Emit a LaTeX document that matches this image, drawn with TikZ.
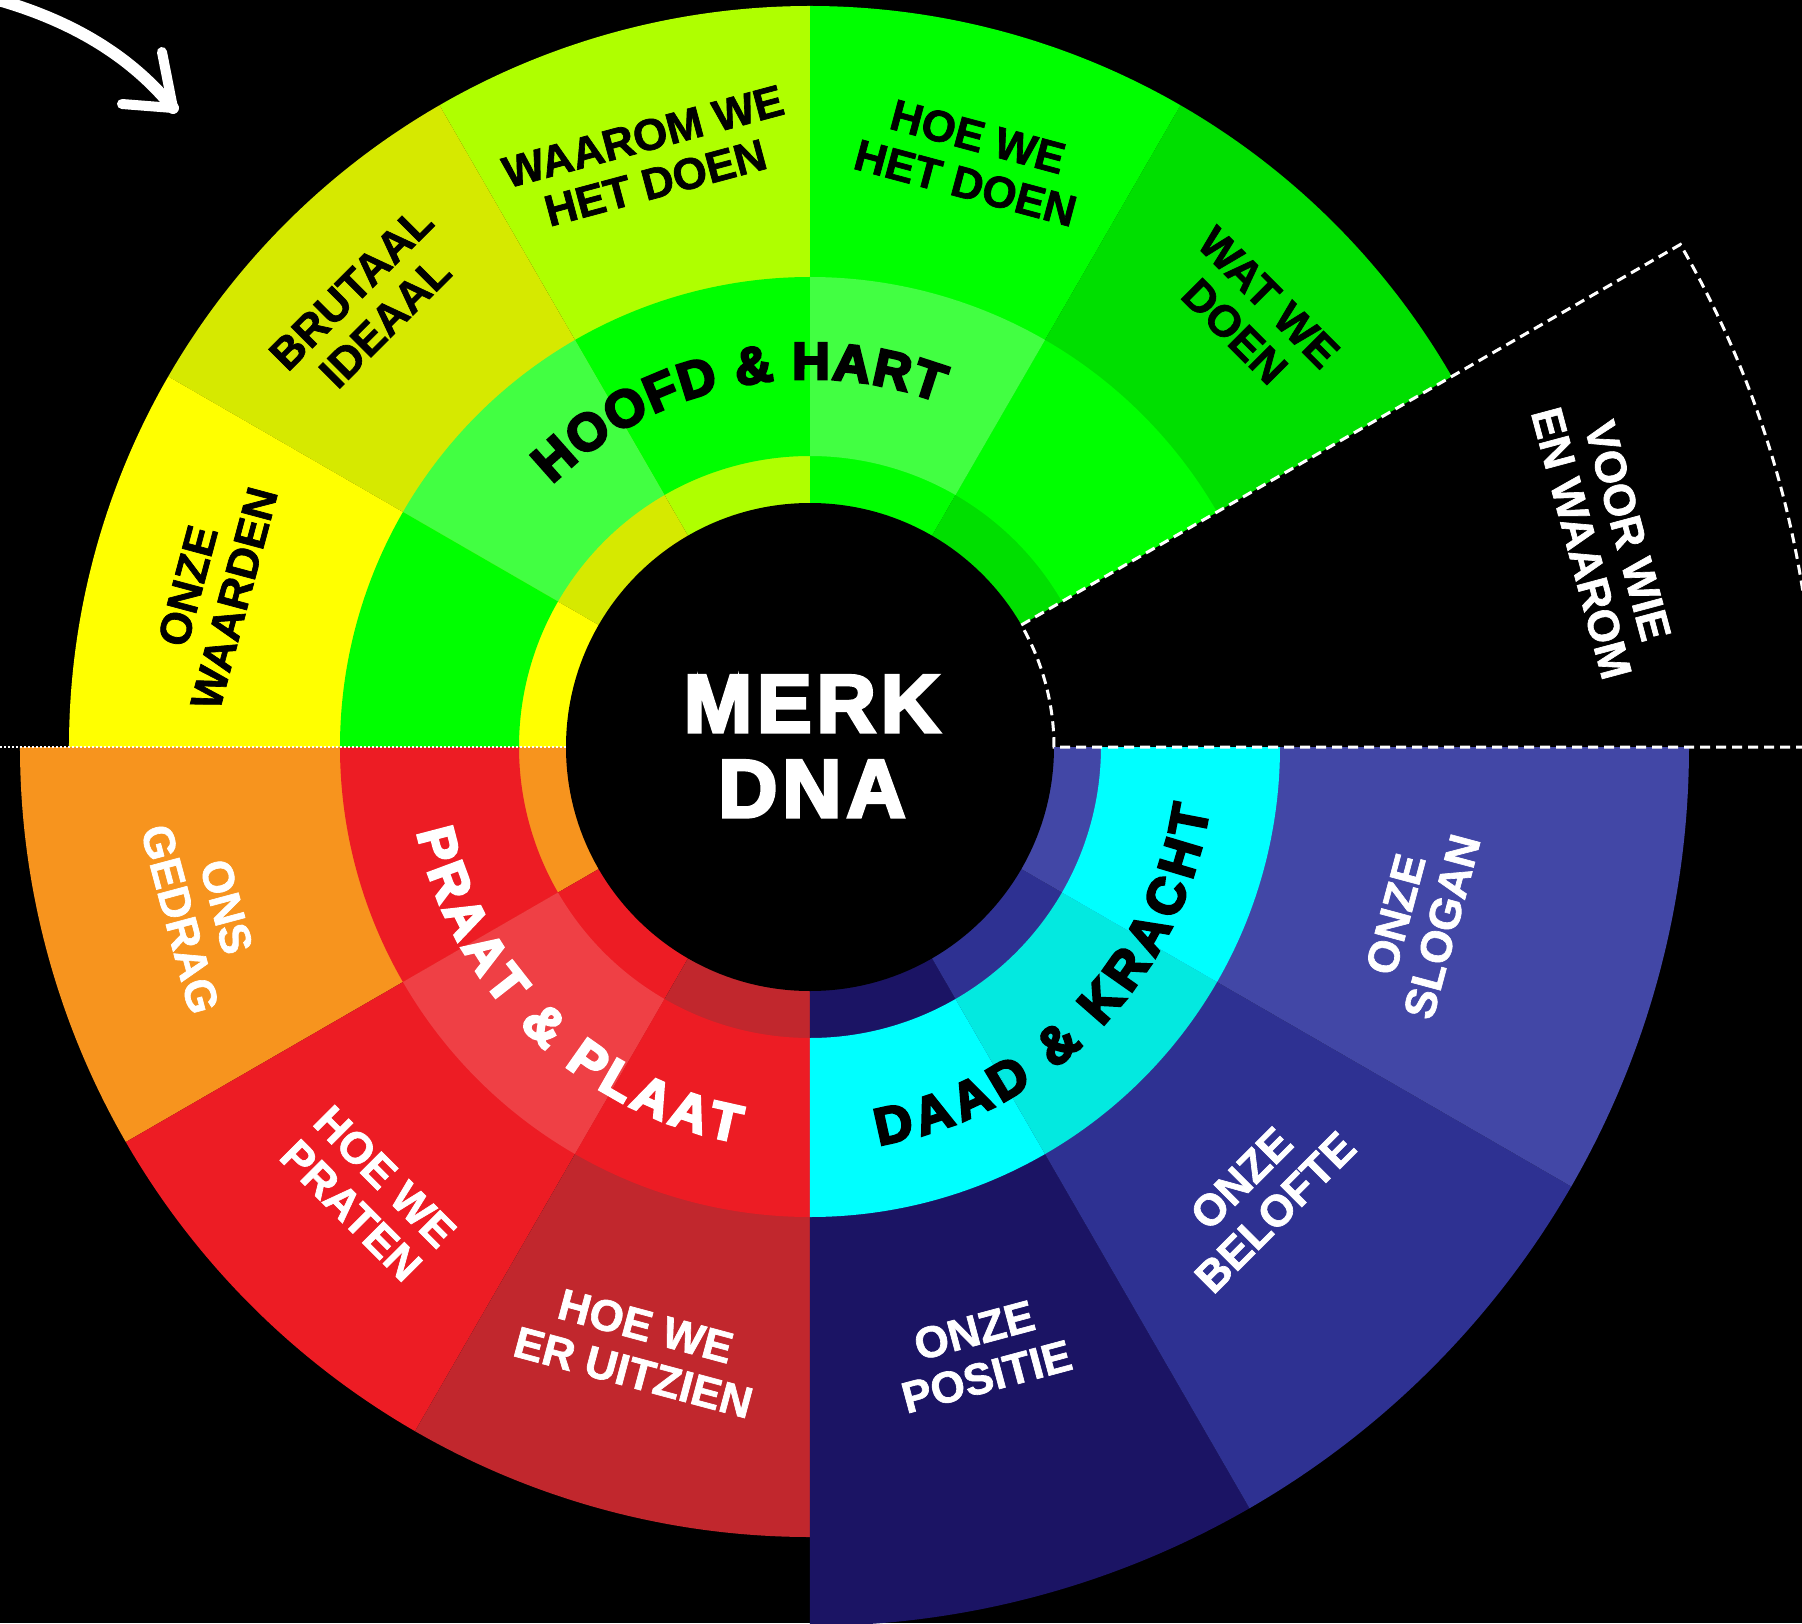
\documentclass[tikz,border=0pt]{standalone}
\usepackage{fontspec}
\setmainfont{Liberation Sans}
\newfontfamily\heavyfont{Liberation Sans}[BoldFeatures={FakeBold=5}]
\newfontfamily\centrefont{Liberation Sans}[BoldFeatures={FakeBold=4}]
\newfontfamily\labfont{Liberation Sans}[BoldFeatures={FakeBold=1.5}]
\usetikzlibrary{decorations.text}
\definecolor{cLime}{HTML}{AFFF00}
\definecolor{cOlive}{HTML}{D6E900}
\definecolor{cYellow}{HTML}{FFFF00}
\definecolor{cGreen}{HTML}{00FF00}
\definecolor{cLtGreen}{HTML}{42FF42}
\definecolor{cDkGreen}{HTML}{00DF00}
\definecolor{cOrange}{HTML}{F7941E}
\definecolor{cRed}{HTML}{ED1C24}
\definecolor{cLtRed}{HTML}{EF4045}
\definecolor{cDkRed}{HTML}{C1272D}
\definecolor{cNavy}{HTML}{1B1464}
\definecolor{cBlue}{HTML}{2E3192}
\definecolor{cLtBlue}{HTML}{4247A6}
\definecolor{cCyan}{HTML}{00FFFF}
\definecolor{cDkCyan}{HTML}{03E9E0}
\newcommand{\wedgefill}[4]{\fill[#1] (0,0) -- (#2:#4) arc[start angle=#2, end angle=#3, radius=#4] -- cycle;}
\newcommand{\ringfill}[5]{\fill[#1] (#2:#4) arc[start angle=#2, end angle=#3, radius=#4] -- (#3:#5) arc[start angle=#3, end angle=#2, radius=#5] -- cycle;}
\newcommand{\arcfont}{\heavyfont\bfseries\fontsize{52}{52}\selectfont}
\tikzset{
  lab/.style={font=\labfont\bfseries\fontsize{44}{48}\selectfont, align=center, inner sep=0pt},
  bigtxt/.style={font=\centrefont\bfseries\fontsize{82}{82}\selectfont\addfontfeature{LetterSpace=6}, text=white, inner sep=0pt, anchor=base},
  arclab/.style={decorate, decoration={text along path, text align=fit to path}}
}
\begin{document}
\begin{tikzpicture}[x=1pt,y=1pt]
\useasboundingbox (-810,-876) rectangle (992,747);
\clip (-810,-876) rectangle (992,747);
\fill[black] (-810,-876) rectangle (992,747);
% outer sectors (inner ring shares colour)
\wedgefill{cDkGreen}{30}{60}{741pt}
\wedgefill{cGreen}{60}{90}{741pt}
\wedgefill{cLime}{90}{120}{741pt}
\wedgefill{cOlive}{120}{150}{741pt}
\wedgefill{cYellow}{150}{180}{741pt}
\wedgefill{cOrange}{180}{210}{790pt}
\wedgefill{cRed}{210}{240}{790pt}
\wedgefill{cDkRed}{240}{270}{790pt}
\wedgefill{cNavy}{270}{300}{879pt}
\wedgefill{cBlue}{300}{330}{879pt}
\wedgefill{cLtBlue}{330}{360}{879pt}
% middle ring
\ringfill{cGreen}{30}{60}{291pt}{470pt}
\ringfill{cLtGreen}{60}{90}{291pt}{470pt}
\ringfill{cGreen}{90}{120}{291pt}{470pt}
\ringfill{cLtGreen}{120}{150}{291pt}{470pt}
\ringfill{cGreen}{150}{180}{291pt}{470pt}
\ringfill{cRed}{180}{210}{291pt}{470pt}
\ringfill{cLtRed}{210}{240}{291pt}{470pt}
\ringfill{cRed}{240}{270}{291pt}{470pt}
\ringfill{cCyan}{270}{300}{291pt}{470pt}
\ringfill{cDkCyan}{300}{330}{291pt}{470pt}
\ringfill{cCyan}{330}{360}{291pt}{470pt}
% core
\node[circle, fill=black, minimum size=488pt, inner sep=0pt] (core) at (0,0) {};
\node[bigtxt] (merk) at (2,15) {MERK};
\node[bigtxt] (dna) at (2,-70) {DNA};
% outer labels
\node[lab, rotate=15] (waarom) at (105.3:609pt) {WAAROM WE\\HET DOEN};
\node[lab, rotate=45] (brutaal) at (135:625pt) {BRUTAAL\\IDEAAL};
\node[lab, rotate=75] (waarden) at (165.5:619pt) {ONZE\\WAARDEN};
\node[lab, rotate=-15] (hoehet) at (74.6:609pt) {HOE WE\\HET DOEN};
\node[lab, rotate=-45] (watwe) at (44.4:618pt) {WAT WE\\DOEN};
\node[lab, rotate=-75, text=white] (voorwie) at (14.8:822pt) {VOOR WIE\\EN WAAROM};
\node[lab, rotate=-75, text=white] (gedrag) at (195.3:629pt) {ONS\\GEDRAG};
\node[lab, rotate=-45, text=white] (praten) at (225.3:628pt) {HOE WE\\PRATEN};
\node[lab, rotate=-15, text=white] (uitzien) at (254.2:626pt) {HOE WE\\ER UITZIEN};
\node[lab, rotate=15, text=white] (positie) at (285.7:630pt) {ONZE\\POSITIE};
\node[lab, rotate=45, text=white] (belofte) at (315:634pt) {ONZE\\BELOFTE};
\node[lab, rotate=75, text=white] (slogan) at (344.1:633pt) {ONZE\\SLOGAN};
% curved group labels
\path[arclab, decoration={text={|\arcfont|HOOFD {\&} HART}, text color=black}]
  (134.5:368pt) arc[start angle=134.5, end angle=69.5, radius=368pt];
\path[arclab, decoration={text={|\arcfont|PRAAT {\&} PLAAT}, text color=white}]
  (192.2:402pt) arc[start angle=192.2, end angle=259.6, radius=402pt];
\path[arclab, decoration={text={|\arcfont|DAAD {\&} KRACHT}, text color=black}]
  (279.8:404pt) arc[start angle=279.8, end angle=351.3, radius=404pt];
% dashed wedge and dotted line
\draw[white, line width=3, dash pattern=on 10pt off 6pt]
  (30:244pt) -- (30:1005pt) arc[start angle=30, end angle=0, radius=1005pt]
  -- (0:244pt) arc[start angle=0, end angle=30, radius=244pt];
\draw[white, line width=2, dash pattern=on 2pt off 2pt] (180:244pt) -- (-830,0);
% arrow
\coordinate (arrS) at (-815,748);
\coordinate (arrT) at (-637,639);
\coordinate (arrU) at (-648,695);
\coordinate (arrL) at (-688,643);
\draw[white, line width=12, line cap=round] (arrS) .. controls (-740,727) and (-680,692) .. (arrT);
\draw[white, line width=10, line cap=round, line join=round] (arrU) -- (arrT) -- (arrL);
\end{tikzpicture}
\end{document}
